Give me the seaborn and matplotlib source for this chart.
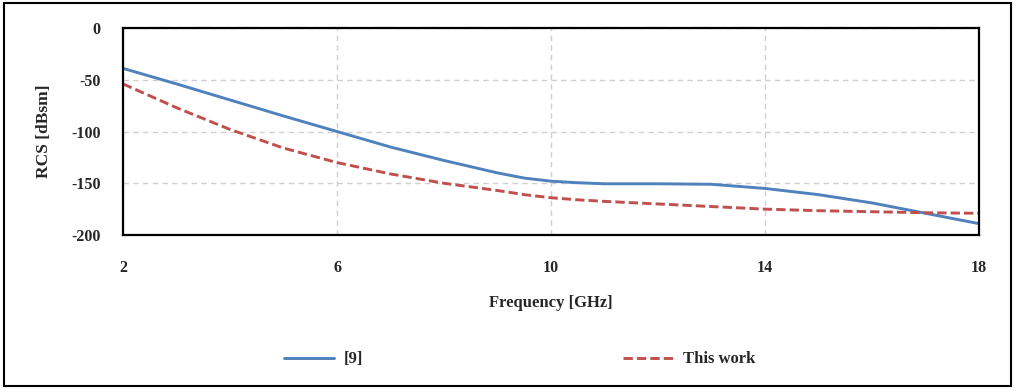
import matplotlib
matplotlib.use("Agg")
import matplotlib.pyplot as plt
import seaborn as sns
import pandas as pd
from matplotlib.patches import Rectangle

# frequency points in GHz
freq = [2, 3, 4, 5, 6, 7, 8, 9, 9.5, 10, 10.5, 11, 12, 13, 14, 15, 16, 17, 18]

# RCS values
rcs_ref9 = [-39, -54, -69.5, -85, -100, -115, -128, -140, -145, -148, -149.5, -150.5, -150.5, -151, -155, -161, -169, -179, -189]
rcs_this = [-54, -77, -98, -116, -130, -141, -150, -157, -161, -164, -166, -167.5, -170, -172.5, -175, -176.5, -177.5, -178.5, -179]

series_names = ["[9]", "This work"]
colors = ["#4F81BD", "#C0504D"]

xticks = [2, 6, 10, 14, 18]
yticks = [0, -50, -100, -150, -200]

df = pd.DataFrame({
    "freq": freq + freq,
    "rcs": rcs_ref9 + rcs_this,
    "series": [series_names[0]] * len(freq) + [series_names[1]] * len(freq),
})

sns.set_style("white")
plt.rcParams["font.family"] = ["Liberation Serif", "DejaVu Serif"]
plt.rcParams["font.weight"] = "bold"
plt.rcParams["axes.unicode_minus"] = False

fig = plt.figure(figsize=(10.17, 3.92), dpi=100)
ax = fig.add_axes([0.121, 0.4005, 0.8416, 0.528])

sns.lineplot(data=df, x="freq", y="rcs", hue="series", style="series",
             palette=colors, dashes=[(1, 0), (3.2, 1.4)], linewidth=2.1,
             ax=ax, legend=False)

ax.set_xlim(2, 18)
ax.set_ylim(-200, 0)
ax.set_xticks(xticks)
ax.set_yticks(yticks)
ax.tick_params(length=0, labelsize=11.5)
ax.tick_params(axis="x", pad=18)
ax.tick_params(axis="y", pad=16)
for lab in ax.get_xticklabels() + ax.get_yticklabels():
    lab.set_fontweight("bold")

ax.grid(True, color="#D0D0D0", linestyle=(0, (4, 3)), linewidth=1.0)
for sp in ax.spines.values():
    sp.set_color("black")
    sp.set_linewidth(1.6)

ax.set_xlabel("Frequency [GHz]", fontsize=12, fontweight="bold", labelpad=14)
ax.set_ylabel("RCS [dBsm]", fontsize=12.5, fontweight="bold", labelpad=14)

handles = [plt.Line2D([], [], color=colors[0], lw=2.1),
           plt.Line2D([], [], color=colors[1], lw=2.1, dashes=(3.2, 1.4))]
fig.legend(handles, series_names, loc="center", bbox_to_anchor=(0.511, 0.083),
           ncol=2, frameon=False, handlelength=3.0, handletextpad=0.6,
           columnspacing=15.6, prop={"size": 12, "weight": "bold"})

fig.patches.append(Rectangle((0.004, 0.015), 0.99, 0.977, transform=fig.transFigure,
                             fill=False, edgecolor="black", linewidth=1.5))

fig.savefig("out.png", dpi=100)
